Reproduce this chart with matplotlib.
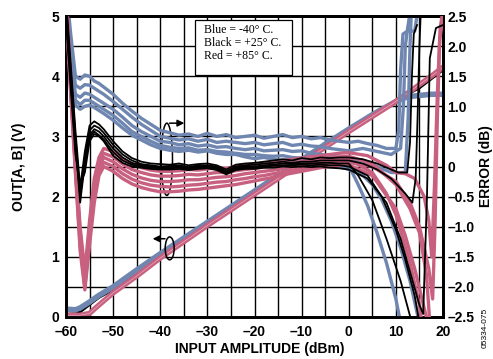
import matplotlib
matplotlib.use("Agg")
import matplotlib.pyplot as plt
from matplotlib.patches import Ellipse, Rectangle

# ---------------- data ----------------
# output voltage vs input amplitude (left axis, V)
VX = [-60, -58, -57, -55, -53, -50, -45, -40, -35, -30, -25, -20, -15, -10, -5, 0, 5, 10, 12.5, 15, 17.5, 20]
V_BLUE = [0.13, 0.12, 0.15, 0.25, 0.36, 0.5, 0.78, 1.05, 1.31, 1.57, 1.83, 2.09, 2.35, 2.61, 2.87, 3.12, 3.36, 3.58, 3.66, 3.68, 3.7, 3.7]
V_RED = [0.03, 0.03, 0.03, 0.06, 0.2, 0.4, 0.68, 0.98, 1.25, 1.52, 1.78, 2.04, 2.3, 2.56, 2.82, 3.08, 3.33, 3.58, 3.72, 3.86, 4.0, 4.15]
V_BLACK = [0.1, 0.09, 0.08, 0.2, 0.32, 0.45, 0.73, 1.01, 1.28, 1.54, 1.8, 2.06, 2.32, 2.58, 2.84, 3.1, 3.34, 3.58, 3.7, 3.8, 3.95, 4.1]

# error curves (right axis, dB): common body from -60 to 0 dBm
BX = [-60, -59, -58, -57, -56, -55, -54, -53, -52, -50, -48, -46, -44, -42, -40, -38, -36, -34,
      -32, -30, -28, -26, -24, -22, -20, -18, -16, -14, -12, -10, -8, -6, -4, -2, 0]

BLUE_BODY = [
    [3.0, 2.2, 1.5, 1.45, 1.52, 1.5, 1.42, 1.38, 1.32, 1.2, 1.05, 0.92, 0.8, 0.7, 0.6, 0.56, 0.52, 0.54, 0.5, 0.55, 0.5, 0.53, 0.48, 0.5, 0.52, 0.47, 0.5, 0.53, 0.48, 0.5, 0.46, 0.48, 0.44, 0.42, 0.4],
    [2.9, 2.0, 1.35, 1.3, 1.36, 1.35, 1.3, 1.25, 1.2, 1.08, 0.95, 0.82, 0.7, 0.6, 0.5, 0.47, 0.44, 0.46, 0.42, 0.45, 0.4, 0.42, 0.4, 0.38, 0.4, 0.36, 0.38, 0.4, 0.35, 0.37, 0.34, 0.33, 0.3, 0.28, 0.26],
    [2.8, 1.85, 1.2, 1.15, 1.22, 1.2, 1.15, 1.1, 1.05, 0.95, 0.82, 0.68, 0.58, 0.5, 0.42, 0.4, 0.36, 0.38, 0.34, 0.36, 0.32, 0.33, 0.3, 0.28, 0.3, 0.26, 0.27, 0.28, 0.25, 0.26, 0.22, 0.2, 0.18, 0.15, 0.12],
    [2.7, 1.7, 1.1, 1.03, 1.1, 1.1, 1.05, 1.0, 0.95, 0.85, 0.72, 0.58, 0.5, 0.42, 0.35, 0.32, 0.3, 0.31, 0.27, 0.28, 0.25, 0.24, 0.22, 0.2, 0.2, 0.18, 0.17, 0.18, 0.15, 0.14, 0.12, 0.1, 0.08, 0.05, 0.02],
    [2.6, 1.6, 1.02, 0.95, 1.0, 1.02, 0.98, 0.93, 0.88, 0.77, 0.64, 0.52, 0.44, 0.36, 0.3, 0.27, 0.25, 0.27, 0.24, 0.26, 0.22, 0.2, 0.2, 0.16, 0.13, 0.15, 0.12, 0.1, 0.11, 0.09, 0.07, 0.05, 0.03, 0.0, -0.05],
]
BLUE_TAIL_X = [
    [0, 2, 4, 6, 8, 10, 10.6, 11.0, 11.5, 12.5, 14, 15],
    [0, 3, 6, 9, 11, 11.6, 12, 12.5, 13.5],
    [0, 3, 6, 9, 12, 12.6, 13.0, 13.4],
    [0, 2, 4, 6, 8, 10, 11],
    [0, 3, 5, 7, 9, 11, 13, 14.7, 15],
]
BLUE_TAIL_Y = [
    [0.4, 0.42, 0.38, 0.35, 0.3, 0.3, 0.6, 1.6, 2.2, 2.25, 2.25, 2.8],
    [0.26, 0.3, 0.25, 0.2, 0.3, 1.0, 2.0, 2.3, 2.8],
    [0.12, 0.1, 0.0, -0.1, -0.1, 0.8, 2.0, 2.8],
    [0.02, -0.3, -0.65, -1.1, -1.6, -2.2, -2.6],
    [-0.05, -0.15, -0.3, -0.55, -0.9, -1.35, -1.9, -2.5, -2.6],
]

BLACK_BODY = [
    [2.8, 1.7, 0.6, -0.35, 0.25, 0.68, 0.75, 0.7, 0.62, 0.42, 0.25, 0.14, 0.08, 0.05, 0.04, 0.03, 0.05, 0.02, 0.04, 0.05, 0.02, -0.05, 0.03, 0.05, 0.06, 0.08, 0.1, 0.12, 0.1, 0.14, 0.12, 0.15, 0.14, 0.15, 0.15],
    [2.7, 1.6, 0.5, -0.5, 0.15, 0.6, 0.68, 0.64, 0.56, 0.36, 0.2, 0.1, 0.04, 0.02, 0.0, 0.01, 0.02, -0.01, 0.02, 0.02, 0.0, -0.08, 0.0, 0.02, 0.03, 0.05, 0.06, 0.08, 0.06, 0.08, 0.08, 0.1, 0.1, 0.1, 0.1],
    [2.6, 1.5, 0.4, -0.6, 0.05, 0.52, 0.62, 0.58, 0.5, 0.3, 0.15, 0.06, 0.02, 0.0, -0.02, -0.01, 0.0, -0.03, 0.0, 0.0, -0.02, -0.1, -0.02, 0.0, 0.0, 0.02, 0.03, 0.05, 0.04, 0.05, 0.05, 0.06, 0.06, 0.05, 0.05],
    [2.5, 1.4, 0.3, -0.45, 0.0, 0.48, 0.58, 0.52, 0.45, 0.24, 0.1, 0.03, 0.0, -0.02, -0.03, -0.03, -0.02, -0.04, -0.02, -0.01, -0.04, -0.12, -0.04, -0.02, -0.02, 0.0, 0.01, 0.02, 0.02, 0.03, 0.02, 0.03, 0.02, 0.02, 0.0],
    [2.4, 1.3, 0.2, -0.3, -0.1, 0.42, 0.54, 0.5, 0.42, 0.18, 0.06, 0.0, -0.02, -0.04, -0.05, -0.05, -0.04, -0.06, -0.04, -0.03, -0.06, -0.13, -0.06, -0.04, -0.04, -0.02, -0.02, 0.0, -0.01, 0.0, -0.01, 0.0, -0.02, -0.03, -0.05],
]
BLACK_TAIL_X = [
    [0, 3, 6, 9, 10.5, 12.4, 13.0, 13.4, 13.8, 14.5],
    [0, 3, 6, 9, 12, 13.5, 14.2, 14.6, 15.0, 15.4],
    [0, 2, 5, 8, 11, 13.4],
    [0, 4, 7, 10, 12, 14, 15],
    [0, 4, 8, 11, 13, 15, 15.8, 16.6, 17.2, 18.5, 20],
]
BLACK_TAIL_Y = [
    [0.15, 0.12, 0.05, -0.05, -0.1, -0.1, 0.4, 1.5, 2.2, 2.35],
    [0.1, 0.05, -0.05, -0.2, -0.45, -0.6, -0.2, 0.8, 2.0, 2.8],
    [0.05, -0.15, -0.56, -1.2, -1.9, -2.6],
    [0.0, -0.15, -0.5, -1.05, -1.55, -2.15, -2.6],
    [-0.05, -0.2, -0.6, -1.2, -1.75, -2.3, -2.45, -0.5, 1.8, 2.3, 2.35],
]

RED_BODY = [
    [3.0, 1.4, 0.1, -1.0, -1.75, -0.9, -0.2, 0.15, 0.3, 0.25, 0.12, 0.04, -0.02, -0.06, -0.08, -0.08, -0.07, -0.05, -0.06, -0.04, -0.02, -0.03, 0.0, 0.02, 0.04, 0.05, 0.07, 0.1, 0.12, 0.14, 0.16, 0.18, 0.2, 0.22, 0.23],
    [2.9, 1.35, 0.05, -1.1, -1.85, -1.0, -0.3, 0.08, 0.22, 0.16, 0.04, -0.05, -0.1, -0.14, -0.16, -0.16, -0.15, -0.13, -0.14, -0.12, -0.1, -0.1, -0.07, -0.05, -0.03, -0.01, 0.01, 0.04, 0.06, 0.08, 0.1, 0.12, 0.14, 0.16, 0.17],
    [2.8, 1.3, 0.0, -1.2, -1.95, -1.1, -0.4, 0.0, 0.15, 0.08, -0.04, -0.13, -0.19, -0.23, -0.25, -0.25, -0.24, -0.22, -0.22, -0.2, -0.18, -0.17, -0.15, -0.12, -0.1, -0.08, -0.06, -0.03, 0.0, 0.02, 0.05, 0.07, 0.09, 0.11, 0.12],
    [2.7, 1.25, -0.05, -1.3, -2.0, -1.2, -0.5, -0.08, 0.07, 0.0, -0.12, -0.21, -0.27, -0.31, -0.33, -0.34, -0.33, -0.31, -0.3, -0.28, -0.26, -0.25, -0.22, -0.2, -0.17, -0.15, -0.12, -0.09, -0.06, -0.04, -0.01, 0.02, 0.04, 0.06, 0.07],
    [2.6, 1.2, -0.1, -1.4, -2.05, -1.3, -0.6, -0.15, 0.0, -0.08, -0.2, -0.29, -0.35, -0.39, -0.42, -0.42, -0.41, -0.39, -0.38, -0.36, -0.34, -0.32, -0.3, -0.27, -0.24, -0.21, -0.18, -0.14, -0.11, -0.08, -0.05, -0.02, 0.0, 0.02, 0.03],
]
RED_TAIL_X = [
    [0, 4, 8, 10, 12, 14, 16, 17, 17.6, 18.2, 18.8, 19.4, 20],
    [0, 5, 10, 13, 15, 16.5, 17.2],
    [0, 5, 8, 10, 13, 15, 15.5],
    [0, 5, 10, 13, 15, 17, 17.8, 18.3, 18.8, 19.3, 20],
    [0, 5, 10, 12, 14, 16, 16.8],
]
RED_TAIL_Y = [
    [0.23, 0.18, 0.02, -0.1, -0.12, -0.2, -0.5, -0.9, -1.5, -0.3, 1.2, 2.3, 2.6],
    [0.17, 0.05, -0.3, -0.7, -1.1, -1.8, -2.6],
    [0.12, -0.1, -0.45, -0.8, -1.6, -2.3, -2.6],
    [0.07, 0.0, -0.25, -0.6, -1.0, -1.7, -2.2, -1.0, 0.8, 2.1, 2.5],
    [0.03, -0.15, -0.7, -1.15, -1.7, -2.35, -2.6],
]

X_TICKS = [-60, -50, -40, -30, -20, -10, 0, 10, 20]
X_TICK_LABELS = ["\u201360", "\u201350", "\u201340", "\u201330", "\u201320", "\u201310", "0", "10", "20"]
YL_TICKS = [0, 1, 2, 3, 4, 5]
YR_TICKS = [-2.5, -2.0, -1.5, -1.0, -0.5, 0, 0.5, 1.0, 1.5, 2.0, 2.5]
YR_TICK_LABELS = ["\u20132.5", "\u20132.0", "\u20131.5", "\u20131.0", "\u20130.5", "0", "0.5", "1.0", "1.5", "2.0", "2.5"]
LEGEND_LINES = ["Blue = -40\u00b0 C.", "Black = +25\u00b0 C.", "Red = +85\u00b0 C."]

BLUE = "#6f86b0"
RED = "#c8607f"
BLACK = "#000000"

# ---------------- figure ----------------
plt.rcParams['font.family'] = ['Liberation Sans', 'DejaVu Sans']
fig = plt.figure(figsize=(4.93, 3.59), dpi=100)
ax = fig.add_axes([66/493, 42/359, 377/493, 301/359])
ax2 = ax.twinx()

ax.set_xlim(-60, 20)
ax.set_ylim(0, 5)
ax2.set_ylim(-2.5, 2.5)

# grid
for gx in range(-55, 20, 5):
    ax.axvline(gx, color="black", lw=1.0, zorder=0)
for gy in [0.5 * i for i in range(1, 10)]:
    ax.axhline(gy, color="black", lw=1.0, zorder=0)

# voltage lines
ax.plot(VX, V_BLACK, color=BLACK, lw=1.6, zorder=2)
ax.plot(VX, V_BLUE, color=BLUE, lw=4.0, zorder=3)
ax.plot(VX, V_RED, color=RED, lw=3.8, zorder=4)
ax.plot(VX, V_RED, color="white", lw=0.4, alpha=0.6, zorder=4)

# error curves
def draw(body, tx, ty, color, lw, z):
    for b, x2, y2 in zip(body, tx, ty):
        xs = BX + x2[1:]
        ys = b + y2[1:]
        ax2.plot(xs, ys, color=color, lw=lw, zorder=z, solid_joinstyle="round")

draw(BLUE_BODY, BLUE_TAIL_X, BLUE_TAIL_Y, BLUE, 2.4, 2)
draw(RED_BODY, RED_TAIL_X, RED_TAIL_Y, RED, 2.4, 3)
draw(BLACK_BODY, BLACK_TAIL_X, BLACK_TAIL_Y, BLACK, 1.3, 4)

# annotations (ellipses and arrows)
ax.add_patch(Ellipse((-38.6, 2.62), 2.4, 1.2, fill=False, ec="black", lw=1.1, zorder=6))
ax.annotate("", xy=(-34.3, 3.22), xytext=(-38.6, 3.22),
            arrowprops=dict(arrowstyle="-|>", color="black", lw=1.1, mutation_scale=10), zorder=6)
ax.add_patch(Ellipse((-38.0, 1.14), 1.9, 0.38, fill=False, ec="black", lw=1.1, zorder=6))
ax.annotate("", xy=(-42.2, 1.3), xytext=(-38.4, 1.3),
            arrowprops=dict(arrowstyle="-|>", color="black", lw=1.1, mutation_scale=10), zorder=6)

# legend box
lx0 = -60 + (195 - 66) / 377 * 80
lx1 = -60 + (292 - 66) / 377 * 80
ly0 = (317 - 75) / 301 * 5
ly1 = (317 - 20) / 301 * 5
ax.add_patch(Rectangle((lx0, ly0), lx1 - lx0, ly1 - ly0, fc="white", ec="black", lw=0.9, zorder=7))
for i, t in enumerate(LEGEND_LINES):
    ax.text(lx0 + 2.0, ly1 - 0.17 - i * 0.215, t, fontsize=8.5, family=["Liberation Serif", "DejaVu Serif"],
            va="center", ha="left", zorder=8)

# axes styling
ax.set_xticks(X_TICKS)
ax.set_xticklabels(X_TICK_LABELS, fontweight="bold", fontsize=10)
ax.set_yticks(YL_TICKS)
ax.set_yticklabels([str(v) for v in YL_TICKS], fontweight="bold", fontsize=10)
ax2.set_yticks(YR_TICKS)
ax2.set_yticklabels(YR_TICK_LABELS, fontweight="bold", fontsize=10)
ax.tick_params(axis="x", length=0, pad=6)
ax.tick_params(axis="y", length=0, pad=5)
ax2.tick_params(length=0, pad=3)
for a in (ax, ax2):
    for s in a.spines.values():
        s.set_linewidth(2.0)

ax.set_xlabel("INPUT AMPLITUDE (dBm)", fontweight="bold", fontsize=10)
ax.xaxis.set_label_coords((260 - 66) / 377, -(342 - 317) / 301)
ax.set_ylabel("OUT[A, B] (V)", fontweight="bold", fontsize=10)
ax.yaxis.set_label_coords((26 - 66) / 377, 0.5)
ax2.set_ylabel("ERROR (dB)", fontweight="bold", fontsize=10)
ax2.yaxis.set_label_coords((479 - 66) / 377, 0.5)

fig.text(485/493, 1 - 328/359, "05334-075", rotation=90, fontsize=6, ha="center", va="center")

fig.savefig("out.png", dpi=100)
